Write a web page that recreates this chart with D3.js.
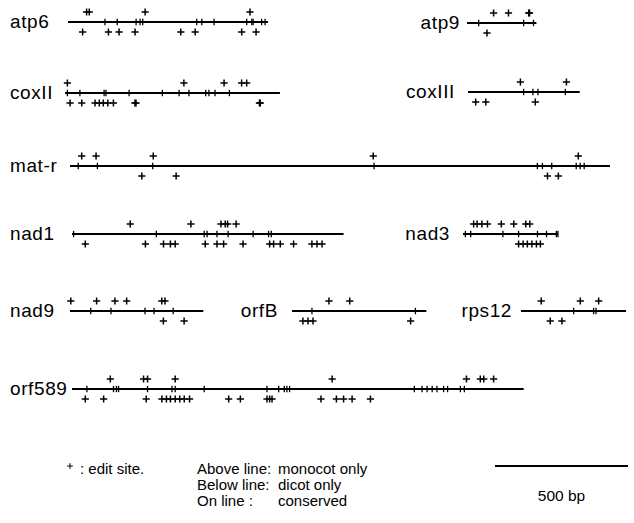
<!DOCTYPE html>
<html><head><meta charset="utf-8">
<script src="https://cdn.jsdelivr.net/npm/d3@7"></script>
<style>body{margin:0;background:#fff} svg{display:block}</style>
</head><body><svg id="c" width="634" height="523"></svg>
<script>
// ---- data (positions in bp along each gene) ----
const geneNames = ["atp6","atp9","coxII","coxIII","mat-r","nad1","nad3","nad9","orfB","rps12","orf589"];
const geneLengths = [752, 261, 808, 420, 2030, 1021, 357, 501, 505, 395, 1698];
// monocot only (above line)
const aboveSites = [
  [70,80,290,684],
  [100,156,232,235],
  [9,447,598,664,683],
  [197,370],
  [44,98,313,1140,1911],
  [219,447,560,576,585,617],
  [40,53,71,92,144,191,236,251],
  [3,100,169,213,345,357],
  [139,217],
  [76,223,292],
  [144,269,284,388,978,1483,1535,1548,1585]
];
// conserved (on line)
const onSites = [
  [139,185,256,271,281,484,503,549,672,691,696,728,741],
  [44,213,250],
  [9,56,147,154,241,366,429,466,529,541,564,618],
  [209,244,263,366],
  [31,103,311,1143,1757,1776,1811,1903,1918,1933],
  [6,317,497,508,545,587,681,739,749],
  [9,29,150,209,280,314,351,357],
  [78,154,282,316,388],
  [75,464],
  [198,273,282],
  [56,156,167,175,284,376,388,497,733,777,798,808,818,1287,1316,1335,1354,1372,1397,1412,1460,1475]
];
// dicot only (below line)
const belowSites = [
  [55,152,192,252,424,478,653,707],
  [75],
  [19,63,113,129,144,161,182,263,267,731,734],
  [29,67,253],
  [270,399,1795,1836],
  [50,276,344,370,388,501,545,570,643,743,758,783,833,902,921,940],
  [209,226,242,259,276,291],
  [351,429],
  [41,60,79,446],
  [110,154],
  [50,119,279,338,355,370,388,405,422,442,589,633,733,743,752,936,994,1021,1053,1122]
];
const scaleBarBp = 500;
const legendKeys = ["Above line:", "Below line:", "On line :"];
const legendMeanings = ["monocot only", "dicot only", "conserved"];

// ---- layout ----
const layout = [
  {x:68,  y:22,  lx:10,  anchor:"start"},
  {x:467, y:23,  lx:460, anchor:"end"},
  {x:65,  y:93,  lx:10,  anchor:"start"},
  {x:468, y:92,  lx:455, anchor:"end"},
  {x:70,  y:166, lx:10,  anchor:"start"},
  {x:72,  y:234, lx:10,  anchor:"start"},
  {x:463, y:234, lx:450, anchor:"end"},
  {x:70,  y:311, lx:10,  anchor:"start"},
  {x:292, y:311, lx:278, anchor:"end"},
  {x:521, y:311, lx:512, anchor:"end"},
  {x:72,  y:389, lx:10,  anchor:"start"}
];

const svg = d3.select("#c");
const font = "'Liberation Sans', Arial, Helvetica, sans-serif";
const x = d3.scaleLinear().domain([0, scaleBarBp]).range([0, 133]);
const off = 10, arm = 3.6, tick = 3.2;

const plusPath = (cx, cy, a) => `M${cx-a},${cy}H${cx+a}M${cx},${cy-a}V${cy+a}`;

geneNames.forEach((name, i) => {
  const L = layout[i];
  const g = svg.append("g").attr("transform", `translate(${L.x},${L.y})`);
  svg.append("text").attr("x", L.lx).attr("y", L.y + 6)
    .attr("text-anchor", L.anchor).attr("font-family", font).attr("font-size", 19)
    .attr("letter-spacing", 0.6).text(name);
  g.append("line").attr("x1", x(0)).attr("x2", x(geneLengths[i])).attr("y1", 0).attr("y2", 0)
    .attr("stroke", "#000").attr("stroke-width", 2);
  g.selectAll("path.on").data(onSites[i]).join("path").attr("class","on")
    .attr("d", d => `M${x(d)},${-tick}V${tick}`).attr("stroke", "#000").attr("stroke-width", 1.3);
  g.selectAll("path.ab").data(aboveSites[i]).join("path").attr("class","ab")
    .attr("d", d => plusPath(x(d), -off, arm)).attr("stroke", "#000").attr("stroke-width", 1.5);
  g.selectAll("path.be").data(belowSites[i]).join("path").attr("class","be")
    .attr("d", d => plusPath(x(d), off, arm)).attr("stroke", "#000").attr("stroke-width", 1.5);
});

// ---- legend ----
svg.append("path").attr("d", plusPath(70, 466, 2.8)).attr("stroke", "#000").attr("stroke-width", 1);
svg.append("text").attr("x", 80).attr("y", 474).attr("font-family", font).attr("font-size", 15).text(":  edit site.");
legendKeys.forEach((k, j) => {
  svg.append("text").attr("x", 197).attr("y", 474 + j*16).attr("font-family", font).attr("font-size", 15).text(k);
  svg.append("text").attr("x", 278).attr("y", 474 + j*16).attr("font-family", font).attr("font-size", 15).text(legendMeanings[j]);
});
const sb = svg.append("g").attr("transform", "translate(495,466)");
sb.append("line").attr("x1", x(0)).attr("x2", x(scaleBarBp)).attr("y1", 0).attr("y2", 0)
  .attr("stroke", "#000").attr("stroke-width", 2);
sb.append("text").attr("x", x(scaleBarBp/2)).attr("y", 35).attr("text-anchor", "middle")
  .attr("font-family", font).attr("font-size", 15.5).text(scaleBarBp + " bp");
</script>
</body></html>
